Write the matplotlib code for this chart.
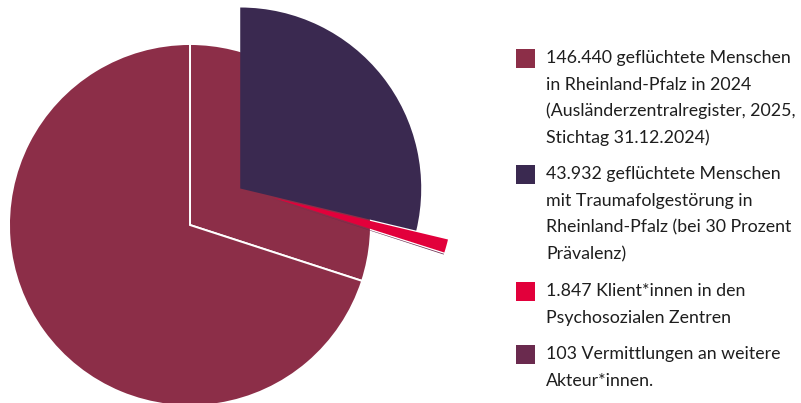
#!/usr/bin/env python3
"""Kreisdiagramm: geflüchtete Menschen in Rheinland-Pfalz 2024 (explodierte Teilmengen)."""

import matplotlib
matplotlib.use("Agg")
import matplotlib.pyplot as plt
import matplotlib.patches as mpatches
import numpy as np

plt.rcParams["font.family"] = ["Lato", "DejaVu Sans"]

# ── Daten ──────────────────────────────────────────
TOTAL = 146440          # geflüchtete Menschen in RLP
TRAUMA = 43932          # davon mit Traumafolgestörung (30 %)
KLIENTEN = 1847         # Klient*innen in den PSZ
VERMITTLUNGEN = 103     # Vermittlungen an weitere Akteur*innen

LABELS = [
    ["146.440 geflüchtete Menschen", "in Rheinland-Pfalz in 2024",
     "(Ausländerzentralregister, 2025,", "Stichtag 31.12.2024)"],
    ["43.932 geflüchtete Menschen", "mit Traumafolgestörung in",
     "Rheinland-Pfalz (bei 30 Prozent", "Prävalenz)"],
    ["1.847 Klient*innen in den", "Psychosozialen Zentren"],
    ["103 Vermittlungen an weitere", "Akteur*innen."],
]

COLORS = ["#8c2e48", "#3a2950", "#e2003b", "#6a2a4e"]

W, H = 801, 403
CX, CY, R = 190, 225, 181          # Kreismittelpunkt/Radius in Pixeln
EXPLODE_TRAUMA = 0.343
EXPLODE_KLIENTEN = 0.182


def draw_pie(fig):
    ax_w = 480
    ax = fig.add_axes([0, 0, ax_w / W, 1])
    # Grundkreis: alles in Dunkelrot, 30 % Segment mit weißer Trennlinie
    ax.pie([TRAUMA, TOTAL - TRAUMA], colors=[COLORS[0], COLORS[0]],
           startangle=90, counterclock=False, radius=1,
           wedgeprops=dict(edgecolor="white", linewidth=1.4))

    # Versatz des Trauma-Segments entlang seiner Mittelachse
    mid = np.deg2rad(90 - 360 * TRAUMA / TOTAL / 2)
    center = (EXPLODE_TRAUMA * np.cos(mid), EXPLODE_TRAUMA * np.sin(mid))

    vals = [TRAUMA - KLIENTEN, KLIENTEN - VERMITTLUNGEN, VERMITTLUNGEN,
            TOTAL - TRAUMA]
    wedges, _ = ax.pie(vals, colors=[COLORS[1], COLORS[2], COLORS[3], "white"],
                       explode=[0, EXPLODE_KLIENTEN, EXPLODE_KLIENTEN, 0],
                       startangle=90, counterclock=False, radius=1,
                       center=center, wedgeprops=dict(linewidth=0))
    wedges[-1].set_visible(False)

    ax.set_aspect("auto")
    ax.set_xlim(-CX / R, (ax_w - CX) / R)
    ax.set_ylim((CY - H) / R, CY / R)
    ax.axis("off")


def draw_legend(fig):
    sq = 19
    x_sq, x_txt = 516, 546
    pitch, gap = 26.5, 10.5
    y = 58
    for color, lines in zip(COLORS, LABELS):
        fig.patches.append(mpatches.Rectangle(
            (x_sq / W, (H - y - sq / 2) / H), sq / W, sq / H,
            facecolor=color, edgecolor="none", transform=fig.transFigure))
        for line in lines:
            fig.text(x_txt / W, (H - y) / H, line, fontsize=12.8,
                     color="#1e1e1e", va="center", ha="left")
            y += pitch
        y += gap


def main():
    fig = plt.figure(figsize=(W / 100, H / 100), dpi=100)
    draw_pie(fig)
    draw_legend(fig)
    fig.savefig("out.png", dpi=100)
    plt.close(fig)


if __name__ == "__main__":
    main()
